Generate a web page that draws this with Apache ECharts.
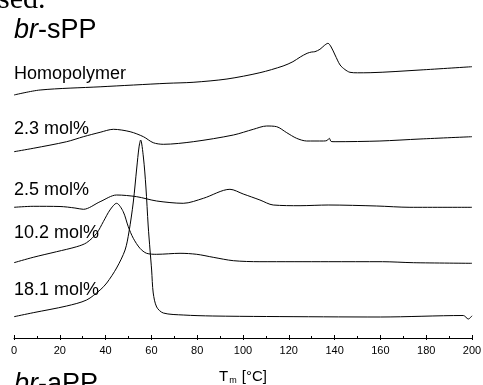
<!DOCTYPE html>
<html>
<head>
<meta charset="utf-8">
<script src="https://cdn.jsdelivr.net/npm/echarts@6/dist/echarts.min.js"></script>
<style>
html,body{margin:0;padding:0;background:#fff;}
#c{width:483px;height:385px;}
</style>
</head>
<body>
<div id="c"></div>
<script>
// Temperature ticks (°C)
var xTicks = [0, 20, 40, 60, 80, 100, 120, 140, 160, 180, 200];
// Curve labels
var curveLabels = ['Homopolymer', '2.3 mol%', '2.5 mol%', '10.2 mol%', '18.1 mol%'];
// DSC traces: [T (°C), heat flow (a.u., stacked offsets)]
var homopolymer = [[0,243],[11.4,248],[37.6,251.2],[66.8,254.7],[78.2,255.7],[93,259],[107.4,265.3],[117.5,272],[121.8,276.3],[125,281],[128,284.7],[130,286],[131.4,286.3],[133.6,288.7],[135.5,292.5],[137.1,294.7],[138.5,291],[140.2,283],[142.4,273],[144.5,268.5],[146.7,265.7],[150,265.2],[155.5,265.3],[177.3,268],[200,271.3]];
var mol2_3 = [[0,186.3],[8.4,189.7],[23,196.3],[30.3,201.3],[37.6,205.7],[43.4,208.7],[50.7,206.3],[56.5,201.3],[60.8,195.3],[65.2,193.7],[78.3,196.3],[95.8,203],[104.5,208.7],[110.3,212],[114.7,211.3],[119.1,205.3],[123.4,199.7],[127.8,197],[135.1,197],[136.7,197.5],[137.7,199.7],[138.5,196.5],[140.2,196.3],[159.8,197],[177.3,199],[200,201.3]];
var mol2_5 = [[0,130.7],[8.4,131.7],[20.1,131.5],[26.6,130],[30.3,128.7],[37.6,136.3],[44.8,143],[53.6,141.3],[62.3,137],[73.9,134.7],[82.7,139.7],[94.3,148.7],[100.1,144],[107.4,138],[113.2,133],[124.9,132.3],[137.2,133],[158.4,132],[172.9,130.7],[200,130.7]];
var mol10_2 = [[0,75.3],[8.4,80.7],[18.6,86.3],[27.4,91.3],[31.7,95.3],[36.1,104.7],[39,116.3],[41.9,128],[44.8,134.7],[47.7,126.3],[49.9,111.3],[52.1,99.7],[55,89.7],[57.9,84.7],[62.3,83.7],[72.5,84.7],[79.8,83.7],[87,80.7],[95.8,77.3],[107.4,76.3],[137.2,76.3],[160.9,76.3],[174.4,75.3],[200,74.7]];
var mol18_1 = [[0,21.3],[8.4,25.3],[23,32],[31.7,38],[37.6,48],[40.5,55],[44.8,70],[48.5,88],[50.2,106],[52.1,136],[53.6,170],[54.6,191],[55.3,198],[56.5,181],[57.6,151],[58.6,112],[59.4,88],[60.1,68],[60.8,45],[62.3,31],[65.2,25],[73.9,23],[86.8,22],[110.3,21.5],[160,21],[196.2,22.5],[198.4,19],[200,22.2]];

var seriesData = [homopolymer, mol2_3, mol2_5, mol10_2, mol18_1];

var chart = echarts.init(document.getElementById('c'), null, {renderer: 'canvas'});
var sans = 'Liberation Sans, Arial, sans-serif';

var series = seriesData.map(function (d, i) {
  return {
    type: 'line', name: curveLabels[i], data: d, showSymbol: false, symbol: 'none',
    smooth: 0.3, xAxisIndex: 0, yAxisIndex: 0,
    lineStyle: {color: '#000', width: 1}, animation: false
  };
});

var labelY = [74.7, 130.2, 191.2, 234.5, 291.2];
var graphics = curveLabels.map(function (t, i) {
  return {type: 'text', left: 14, top: labelY[i] - 10, style: {text: t, fontFamily: sans, fontSize: 18, fill: '#000'}};
});
graphics.push({type: 'text', left: 14, top: 17, style: {text: '{i|br}-sPP', fontFamily: sans, fontSize: 27, fill: '#000', rich: {i: {fontStyle: 'italic', fontFamily: sans, fontSize: 27}}}});
graphics.push({type: 'text', left: 14, top: 371, style: {text: '{i|br}-aPP', fontFamily: sans, fontSize: 27, fill: '#000', rich: {i: {fontStyle: 'italic', fontFamily: sans, fontSize: 27}}}});
graphics.push({type: 'text', left: -2, top: -15, style: {text: 'sed.', fontFamily: 'Liberation Serif, Times New Roman, serif', fontSize: 30, fill: '#000'}});

chart.setOption({
  animation: false,
  grid: {left: 14, right: 11, top: 0, bottom: 47, containLabel: false, outerBoundsMode: 'none'},
  xAxis: [{
    type: 'value', min: 0, max: 200, interval: 20,
    axisLine: {lineStyle: {color: '#000', width: 1}},
    axisTick: {show: true, inside: true, length: 3, lineStyle: {color: '#000'}},
    minorTick: {show: true, splitNumber: 2, length: 2, lineStyle: {color: '#000'}},
    splitLine: {show: false},
    axisLabel: {fontFamily: sans, fontSize: 11, color: '#000', margin: 7,
      formatter: function (v) { return xTicks.indexOf(v) >= 0 ? String(v) : ''; }},
    name: '{a|T}{s|m}{a| [°C]}', nameLocation: 'middle', nameGap: 30,
    nameTextStyle: {rich: {a: {fontFamily: sans, fontSize: 15, color: '#000', lineHeight: 17}, s: {fontFamily: sans, fontSize: 9, color: '#000', lineHeight: 17, padding: [8, 1, 0, 1]}}}
  }, {
    type: 'value', min: 0, max: 200, interval: 20, position: 'bottom',
    axisLine: {show: false},
    axisTick: {show: true, inside: false, length: 2, lineStyle: {color: '#000'}},
    axisLabel: {show: false}, splitLine: {show: false}
  }],
  yAxis: {type: 'value', min: 0, max: 338, show: false, splitLine: {show: false}},
  series: series,
  graphic: graphics
});
</script>
</body>
</html>
